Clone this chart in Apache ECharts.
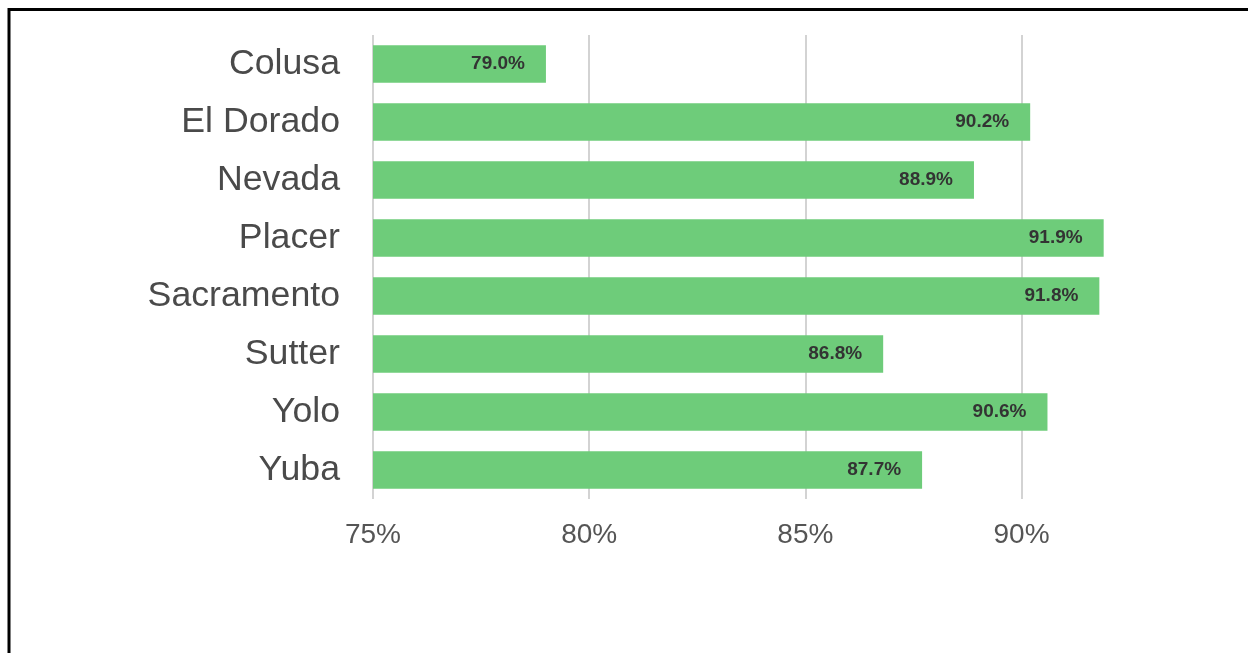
<!DOCTYPE html>
<html>
<head>
<meta charset="utf-8">
<style>
  html, body { margin: 0; padding: 0; background: #fff; }
  #chart { width: 1248px; height: 653px; }
</style>
<script src="https://cdn.jsdelivr.net/npm/echarts@6/dist/echarts.min.js"></script>
</head>
<body>
<div id="chart"></div>
<script>
// County names, top to bottom
const counties = ['Colusa', 'El Dorado', 'Nevada', 'Placer', 'Sacramento', 'Sutter', 'Yolo', 'Yuba'];
// Share per county, in percent
const shares = [79.0, 90.2, 88.9, 91.9, 91.8, 86.8, 90.6, 87.7];
// Value axis range and step, in percent
const axisMin = 75;
const axisMax = 92;
const axisStep = 5;

const chart = echarts.init(document.getElementById('chart'), null, { renderer: 'canvas' });

chart.setOption({
  animation: false,
  backgroundColor: '#ffffff',
  grid: { left: 373, right: 140, top: 35, bottom: 154, containLabel: false },
  xAxis: {
    type: 'value',
    min: axisMin,
    max: axisMax,
    interval: axisStep,
    axisLine: { show: false },
    axisTick: { show: false },
    axisLabel: {
      formatter: v => v + '%',
      showMaxLabel: false,
      color: '#555555',
      fontFamily: 'Liberation Sans, Arial, sans-serif',
      fontSize: 28,
      margin: 22
    },
    splitLine: {
      show: true,
      showMaxLine: false,
      showMinLine: true,
      lineStyle: { color: '#d3d3d3', width: 2 }
    }
  },
  yAxis: {
    type: 'category',
    inverse: true,
    data: counties,
    axisLine: { show: false },
    axisTick: { show: false },
    axisLabel: {
      color: '#4a4a4a',
      fontFamily: 'Liberation Sans, Arial, sans-serif',
      fontSize: 35.7,
      margin: 33
    }
  },
  series: [{
    type: 'bar',
    data: shares,
    barCategoryGap: '35%',
    itemStyle: { color: '#6ecc7a' },
    label: {
      show: true,
      position: 'insideRight',
      distance: 21,
      formatter: p => p.value.toFixed(1) + '%',
      color: '#333333',
      fontWeight: 'bold',
      fontFamily: 'Liberation Sans, Arial, sans-serif',
      fontSize: 19
    }
  }],
  graphic: [
    { type: 'line', shape: { x1: 8, y1: 9.5, x2: 1248, y2: 9.5 }, style: { stroke: '#000', lineWidth: 3 }, silent: true },
    { type: 'line', shape: { x1: 9, y1: 8, x2: 9, y2: 653 }, style: { stroke: '#000', lineWidth: 3 }, silent: true }
  ]
});
</script>
</body>
</html>
